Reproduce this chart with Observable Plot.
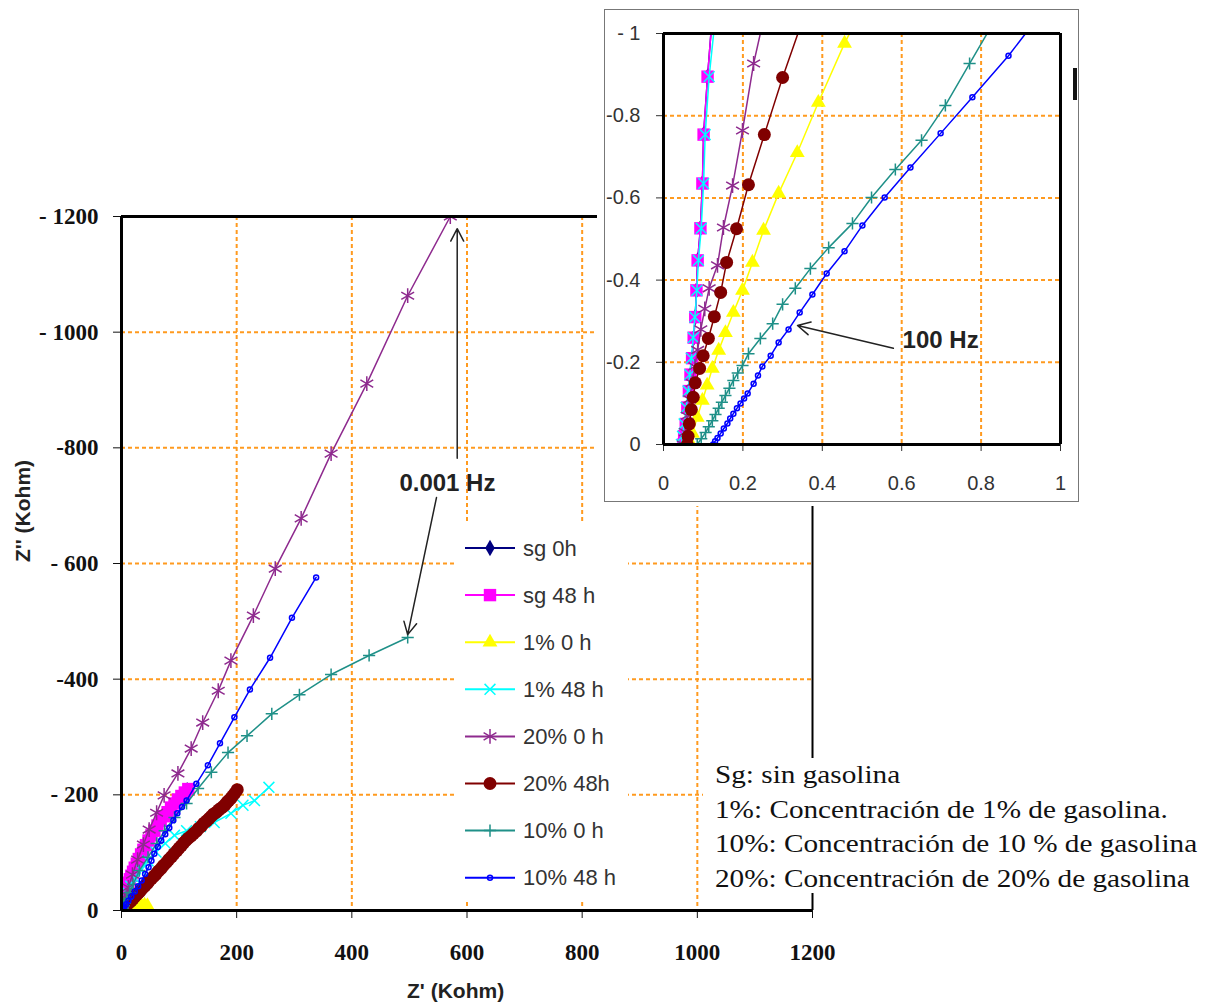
<!DOCTYPE html>
<html><head><meta charset="utf-8">
<script src="https://cdn.jsdelivr.net/npm/d3@7"></script>
<script src="https://cdn.jsdelivr.net/npm/@observablehq/plot@0.6"></script>
<style>
html,body{margin:0;padding:0;background:#fff;}
#wrap{position:relative;width:1209px;height:1004px;overflow:hidden;background:#fff;}
.abs{position:absolute;}
</style></head><body><div id="wrap"></div>
<script>
// ---- Data: [Z' (Kohm), Z'' (Kohm)] per series ----
const sg0h = [[0.05,0],[0.052,-0.02],[0.056,-0.05],[0.06,-0.09],[0.064,-0.13],[0.068,-0.17],[0.072,-0.21],[0.076,-0.26],[0.08,-0.31],[0.083,-0.375],[0.086,-0.448],[0.093,-0.526],[0.098,-0.635],[0.101,-0.754],[0.111,-0.895],[0.125,-1.07],[0.3,-2],[0.6,-4],[1,-7],[2,-12],[3,-18],[5,-26],[8,-36],[12,-48],[17,-60],[23,-74],[30,-89],[38,-105],[47,-121],[57,-138],[68,-155],[80,-170],[92,-185],[104,-198],[114,-208]];
const sg48h = [[0.05,0],[0.052,-0.02],[0.056,-0.05],[0.06,-0.09],[0.064,-0.13],[0.068,-0.17],[0.072,-0.21],[0.076,-0.26],[0.08,-0.31],[0.083,-0.375],[0.086,-0.448],[0.093,-0.526],[0.098,-0.635],[0.101,-0.754],[0.111,-0.895],[0.125,-1.07],[0.3,-2],[0.6,-4],[1,-7],[1.5,-9.5],[2,-12],[3,-18],[4,-22],[5,-26],[6.5,-31],[8,-36],[10,-42],[12,-48],[14.5,-54],[17,-60],[20,-67],[23,-74],[26.5,-81],[30,-89],[34,-97],[38,-105],[42.5,-113],[47,-121],[52,-130],[57,-138],[62.5,-147],[68,-155],[74,-163],[80,-170],[86,-178],[92,-185],[98,-192],[104,-198],[110,-204],[116,-210]];
const pct1_0h = [[0.07,0],[0.073,-0.027],[0.085,-0.066],[0.098,-0.107],[0.11,-0.144],[0.123,-0.185],[0.139,-0.229],[0.156,-0.272],[0.176,-0.321],[0.199,-0.375],[0.224,-0.443],[0.252,-0.521],[0.29,-0.611],[0.337,-0.71],[0.39,-0.832],[0.456,-0.976],[0.6,-1.25],[1.2,-1.9],[3,-2.8],[8,-4],[16,-6],[28,-10],[34,-10],[40,-9],[45,-8]];
const pct1_48h = [[0.045,0],[0.048,-0.02],[0.052,-0.05],[0.057,-0.09],[0.062,-0.13],[0.066,-0.17],[0.07,-0.21],[0.075,-0.26],[0.079,-0.31],[0.084,-0.375],[0.088,-0.448],[0.095,-0.526],[0.101,-0.635],[0.105,-0.754],[0.115,-0.895],[0.135,-1.08],[0.3,-2.5],[0.8,-5],[1.8,-9],[3.5,-15],[6,-22],[10,-31],[16,-42],[24,-55],[34,-70],[46,-86],[60,-101],[76,-116],[92,-130],[113,-138],[137,-145],[161,-152],[190,-168],[211,-182],[231,-190],[256,-213]];
const pct20_0h = [[0.05,0],[0.055,-0.03],[0.06,-0.07],[0.066,-0.11],[0.072,-0.15],[0.079,-0.19],[0.086,-0.23],[0.094,-0.28],[0.104,-0.33],[0.115,-0.38],[0.136,-0.436],[0.151,-0.528],[0.174,-0.63],[0.199,-0.764],[0.227,-0.927],[0.33,-1.37],[0.7,-2.8],[1.5,-5.5],[3,-11],[5,-18],[8,-27],[12,-40],[19,-62],[28,-88],[38,-114],[48,-140],[61,-169],[74,-199],[98,-237],[121,-280],[141,-325],[168,-380],[190,-432],[229,-510],[267,-591],[312,-678],[364,-790],[426,-911],[497,-1063],[571,-1200]];
const pct20_48h = [[0.06,0],[0.062,-0.02],[0.065,-0.05],[0.07,-0.085],[0.075,-0.115],[0.08,-0.15],[0.091,-0.185],[0.1,-0.216],[0.113,-0.258],[0.128,-0.311],[0.144,-0.37],[0.159,-0.443],[0.184,-0.525],[0.214,-0.632],[0.254,-0.754],[0.3,-0.893],[0.4,-1.17],[0.8,-1.9],[1.5,-3],[3,-5],[5,-7],[8,-10],[11,-12],[14,-14],[17,-17],[20,-20],[23,-24],[26,-27],[29,-30],[32,-33],[35,-37],[38,-40],[41,-43],[45,-47],[48,-51],[52,-55],[56,-59],[60,-63],[64,-68],[69,-73],[73,-78],[78,-83],[82,-88],[87,-93],[91,-98],[96,-103],[100,-108],[104,-112],[108,-117],[112,-121],[116,-125],[121,-129],[125,-133],[130,-137],[134,-142],[139,-146],[143,-151],[148,-155],[152,-159],[156,-163],[160,-167],[165,-170],[169,-174],[173,-177],[177,-180],[180,-183],[183,-187],[186,-190],[190,-194],[193,-198],[197,-203],[201,-209]];
const pct10_0h = [[0.085,0],[0.095,-0.014],[0.106,-0.029],[0.114,-0.043],[0.123,-0.058],[0.131,-0.073],[0.139,-0.088],[0.147,-0.103],[0.156,-0.119],[0.166,-0.137],[0.176,-0.156],[0.187,-0.174],[0.199,-0.192],[0.214,-0.221],[0.244,-0.258],[0.275,-0.294],[0.3,-0.341],[0.332,-0.38],[0.37,-0.428],[0.416,-0.479],[0.476,-0.538],[0.524,-0.601],[0.584,-0.669],[0.65,-0.74],[0.71,-0.825],[0.771,-0.927],[0.9,-1.14],[1.5,-2.2],[2.5,-4.5],[4,-8],[6,-13],[9,-20],[14,-31],[20,-45],[31,-69],[46,-92],[61,-116],[75,-138],[92,-161],[113,-185],[133,-211],[156,-239],[185,-273],[218,-302],[261,-340],[309,-373],[364,-408],[430,-441],[497,-472]];
const pct10_48h = [[0.125,0],[0.13,-0.008],[0.136,-0.016],[0.144,-0.027],[0.152,-0.039],[0.161,-0.051],[0.168,-0.063],[0.176,-0.075],[0.185,-0.088],[0.194,-0.1],[0.203,-0.112],[0.212,-0.124],[0.227,-0.148],[0.238,-0.168],[0.249,-0.19],[0.27,-0.216],[0.29,-0.248],[0.315,-0.28],[0.343,-0.321],[0.375,-0.365],[0.411,-0.416],[0.456,-0.47],[0.501,-0.533],[0.557,-0.601],[0.622,-0.674],[0.698,-0.757],[0.778,-0.845],[0.869,-0.946],[1.0,-1.11],[1.8,-2.2],[3,-4],[5,-7],[8,-11],[12,-17],[17,-24],[23,-33],[29,-42],[35,-52],[41,-63],[47,-75],[52,-86],[57,-98],[63,-110],[69,-121],[76,-132],[83,-143],[90,-156],[97,-168],[105,-179],[113,-190],[130,-219],[150,-251],[171,-289],[196,-334],[223,-382],[258,-437],[296,-506],[338,-576]];

const seriesNames = ["sg 0h","sg 48 h","1% 0 h","1% 48 h","20% 0 h","20% 48h","10% 0 h","10% 48 h"];

const mainXTicks = [0,200,400,600,800,1000,1200];
const mainXLabels = ["0","200","400","600","800","1000","1200"];
const mainYTicks = [0,-200,-400,-600,-800,-1000,-1200];
const mainYLabels = ["0","- 200","-400","- 600","-800","- 1000","- 1200"];
const insetXTicks = [0,0.2,0.4,0.6,0.8,1];
const insetXLabels = ["0","0.2","0.4","0.6","0.8","1"];
const insetYTicks = [0,-0.2,-0.4,-0.6,-0.8,-1];
const insetYLabels = ["0","-0.2","-0.4","-0.6","-0.8","- 1"];

const notes = ["Sg: sin gasolina","1%: Concentración de 1% de gasolina.","10%: Concentración de 10 % de gasolina","20%: Concentración de 20% de gasolina"];

// ---- styles ----
const series = [
  {name: seriesNames[0], data: sg0h, color: "#000080", symbol: "diamond", r: 5, filled: true},
  {name: seriesNames[1], data: sg48h, color: "#ff00ff", symbol: "square", r: 7, filled: true},
  {name: seriesNames[2], data: pct1_0h, color: "#ffff00", symbol: "triangle", r: 5.5, filled: true},
  {name: seriesNames[3], data: pct1_48h, color: "#00ffff", symbol: "times", r: 5, filled: false},
  {name: seriesNames[4], data: pct20_0h, color: "#8e2a8e", symbol: "asterisk", r: 7, filled: false},
  {name: seriesNames[5], data: pct20_48h, color: "#800000", symbol: "circle", r: 6.5, filled: true},
  {name: seriesNames[6], data: pct10_0h, color: "#1f9088", symbol: "plus", r: 4, filled: false},
  {name: seriesNames[7], data: pct10_48h, color: "#0000ff", symbol: "circle", r: 2.5, filled: false}
];
const GRID = "#ff9a1f";
const fx = d => d[0], fy = d => d[1];

function seriesMarks() {
  return series.flatMap(s => [
    Plot.line(s.data, {x: fx, y: fy, stroke: s.color, strokeWidth: 1.5, clip: true}),
    Plot.dot(s.data, {x: fx, y: fy, symbol: s.symbol, r: s.r,
      fill: s.filled ? s.color : "none", stroke: s.filled ? "none" : s.color,
      strokeWidth: s.filled ? 0 : 1.5, clip: true})
  ]);
}

const wrap = document.getElementById("wrap");

// ---- main chart ----
const main = Plot.plot({
  width: 1209, height: 1004,
  marginLeft: 121, marginRight: 397, marginTop: 216, marginBottom: 94,
  style: {fontFamily: "'Liberation Serif','Times New Roman',serif", fontWeight: "bold", fontSize: "23px", color: "#111", background: "transparent"},
  x: {domain: [0, 1200], ticks: mainXTicks, tickFormat: d => mainXLabels[mainXTicks.indexOf(d)], tickSize: 8, tickPadding: 25, label: null},
  y: {domain: [0, -1200], ticks: mainYTicks, tickFormat: d => mainYLabels[mainYTicks.indexOf(d)], tickSize: 8, tickPadding: 15, label: null},
  marks: [
    Plot.ruleX(mainXTicks.slice(1, -1), {stroke: GRID, strokeWidth: 2, strokeDasharray: "4,3"}),
    Plot.ruleY(mainYTicks.slice(1, -1), {stroke: GRID, strokeWidth: 2, strokeDasharray: "4,3"}),
    ...seriesMarks(),
    Plot.ruleX([0], {stroke: "#000", strokeWidth: 3}),
    Plot.ruleY([0], {stroke: "#000", strokeWidth: 3}),
    Plot.ruleY([-1200], {stroke: "#000", strokeWidth: 3}),
    Plot.ruleX([1200], {stroke: "#000", strokeWidth: 2}),
    Plot.arrow([0], {x1: 583, y1: -782, x2: 583, y2: -1179, stroke: "#222", strokeWidth: 1.5, headLength: 14, headAngle: 55}),
    Plot.arrow([0], {x1: 547, y1: -714, x2: 497, y2: -477, stroke: "#222", strokeWidth: 1.5, headLength: 14, headAngle: 55}),
    Plot.text(["0.001 Hz"], {x: 566, y: -738, text: d => d, fontFamily: "'Liberation Sans',Arial,sans-serif", fontWeight: "bold", fontSize: 24, fill: "#222"})
  ]
});
main.style.position = "absolute"; main.style.left = "0px"; main.style.top = "0px";
wrap.appendChild(main);

// ---- legend ----
const symMap = {diamond: d3.symbolDiamond, square: d3.symbolSquare, triangle: d3.symbolTriangle, times: d3.symbolTimes, asterisk: d3.symbolAsterisk, circle: d3.symbolCircle, plus: d3.symbolPlus};
const leg = d3.create("svg").attr("width", 173).attr("height", 378)
  .style("position", "absolute").style("left", "455px").style("top", "524px").style("background", "#fff");
series.forEach((s, i) => {
  const cy = 24 + i * 47.1;
  const g = leg.append("g").attr("transform", `translate(0,${cy})`);
  g.append("line").attr("x1", 10).attr("x2", 60).attr("stroke", s.color).attr("stroke-width", 2);
  g.append("path").attr("transform", "translate(35,0)")
    .attr("d", d3.symbol(symMap[s.symbol], Math.PI * s.r * s.r)())
    .attr("fill", s.filled ? s.color : "none").attr("stroke", s.filled ? "none" : s.color).attr("stroke-width", 1.5);
  g.append("text").attr("x", 68).attr("dy", "0.35em").text(s.name)
    .attr("font-family", "'Liberation Sans',Arial,sans-serif").attr("font-size", 22).attr("fill", "#333");
});
wrap.appendChild(leg.node());

// ---- inset ----
const insetBg = document.createElement("div");
insetBg.className = "abs";
Object.assign(insetBg.style, {left: "597px", top: "0px", width: "490px", height: "506px", background: "#fff"});
wrap.appendChild(insetBg);

const inset = Plot.plot({
  width: 473, height: 492,
  marginLeft: 58, marginRight: 18, marginTop: 23, marginBottom: 58,
  style: {fontFamily: "'Liberation Sans',Arial,sans-serif", fontSize: "20px", color: "#333", background: "#fff"},
  x: {domain: [0, 1], ticks: insetXTicks, tickFormat: d => insetXLabels[insetXTicks.indexOf(d)], tickSize: 7, tickPadding: 24, label: null},
  y: {domain: [0, -1], ticks: insetYTicks, tickFormat: d => insetYLabels[insetYTicks.indexOf(d)], tickSize: 7, tickPadding: 16, label: null},
  marks: [
    Plot.ruleX(insetXTicks.slice(1, -1), {stroke: GRID, strokeWidth: 2, strokeDasharray: "4,3"}),
    Plot.ruleY(insetYTicks.slice(1, -1), {stroke: GRID, strokeWidth: 2, strokeDasharray: "4,3"}),
    ...seriesMarks(),
    Plot.ruleX([0, 1], {stroke: "#000", strokeWidth: 3}),
    Plot.ruleY([0, -1], {stroke: "#000", strokeWidth: 3}),
    Plot.arrow([0], {x1: 0.579, y1: -0.234, x2: 0.3375, y2: -0.2895, stroke: "#222", strokeWidth: 1.5, headLength: 14, headAngle: 55}),
    Plot.text(["100 Hz"], {x: 0.698, y: -0.253, text: d => d, fontFamily: "'Liberation Sans',Arial,sans-serif", fontWeight: "bold", fontSize: 24, fill: "#222"})
  ]
});
Object.assign(inset.style, {position: "absolute", left: "605px", top: "10px"});
wrap.appendChild(inset);
const insetBorder = document.createElement("div");
insetBorder.className = "abs";
Object.assign(insetBorder.style, {left: "604px", top: "9px", width: "475px", height: "493px", border: "1.5px solid #777", boxSizing: "border-box", pointerEvents: "none"});
wrap.appendChild(insetBorder);
const blk = document.createElement("div");
blk.className = "abs";
Object.assign(blk.style, {left: "1073px", top: "68px", width: "4px", height: "32px", background: "#111"});
wrap.appendChild(blk);

// ---- notes ----
const nt = d3.create("svg").attr("width", 506).attr("height", 135)
  .style("position", "absolute").style("left", "703px").style("top", "758px").style("background", "#fff");
notes.forEach((t, i) => {
  nt.append("text").attr("transform", `translate(12,${25 + i * 34.7}) scale(1.17,1)`).text(t)
    .attr("font-family", "'Liberation Serif','Times New Roman',serif").attr("font-size", 25).attr("fill", "#111");
});
wrap.appendChild(nt.node());

// ---- axis titles ----
const xl = document.createElement("div");
xl.className = "abs";
xl.textContent = "Z' (Kohm)";
Object.assign(xl.style, {left: "407px", top: "979px", font: "bold 21px 'Liberation Sans',Arial,sans-serif", color: "#222", whiteSpace: "nowrap"});
wrap.appendChild(xl);
const yl = d3.create("svg").attr("width", 50).attr("height", 200)
  .style("position", "absolute").style("left", "0px").style("top", "411px");
yl.append("text").attr("transform", "translate(23,100) rotate(-90)").attr("text-anchor", "middle").attr("dy", "0.35em")
  .text("Z'' (Kohm)").attr("font-family", "'Liberation Sans',Arial,sans-serif").attr("font-weight", "bold").attr("font-size", 21).attr("fill", "#222");
wrap.appendChild(yl.node());
</script>
</body></html>
